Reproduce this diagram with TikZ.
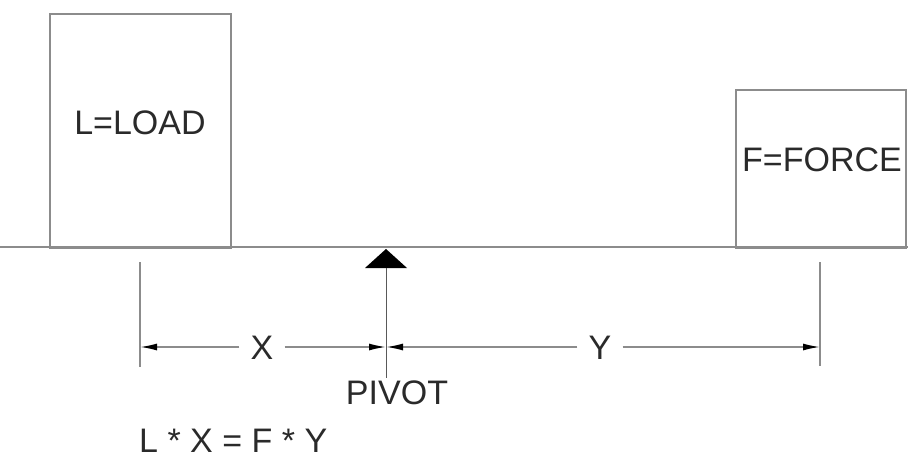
\documentclass[tikz,border=0pt]{standalone}
\usepackage{fontspec}
\setmainfont{Liberation Sans}
\usetikzlibrary{arrows.meta}
\definecolor{linegray}{HTML}{8C8C8C}
\definecolor{txt}{HTML}{2A2A2A}
\begin{document}
\begin{tikzpicture}[x=1pt,y=-1pt,
  lbl/.style={font=\fontsize{34}{39}\selectfont, text=txt, inner sep=0pt},
  boxstyle/.style={draw=linegray, line width=2pt, inner sep=0pt},
  beam/.style={draw=linegray, line width=2pt},
  extline/.style={draw=linegray, line width=1.6pt},
  dimline/.style={draw=linegray, line width=1.6pt},
  tipstyle/.style={-{Latex[length=17pt,width=7pt,black]}},
]
\useasboundingbox (0,0) rectangle (908,466);
% beam
\coordinate (bl) at (0,247);
\coordinate (br) at (908,247);
\draw[beam] (bl) -- (br);
% boxes
\node[boxstyle, minimum width=181pt, minimum height=234pt, anchor=north west] (load) at (49,13) {};
\node[boxstyle, minimum width=170pt, minimum height=158pt, anchor=north west] (force) at (735,89) {};
\node[lbl] (loadtxt) at (140,123) {L=LOAD};
\node[lbl] (forcetxt) at (822,160) {F=FORCE};
% pivot triangle
\coordinate (apex) at (386,249);
\coordinate (tl) at (365,268);
\coordinate (tr) at (407,268);
\fill[black] (apex) -- (tl) -- (tr) -- cycle;
% extension lines
\coordinate (e1t) at (140,262);
\coordinate (e1b) at (140,367);
\coordinate (e2t) at (820,262);
\coordinate (e2b) at (820,366);
\coordinate (pt) at (386,268);
\coordinate (pb) at (386,378);
\draw[extline] (e1t) -- (e1b);
\draw[extline] (e2t) -- (e2b);
\draw[draw=gray!70!black, line width=1pt] (pt) -- (pb);
% dimension lines
\coordinate (d1) at (140,347);
\coordinate (dp) at (386,347);
\coordinate (d2) at (820,347);
\node[lbl, inner xsep=11pt] (xlab) at (262,348) {X};
\node[lbl, inner xsep=11pt] (ylab) at (600,348) {Y};
\draw[dimline, tipstyle] (xlab.west |- d1) -- (d1);
\draw[dimline, tipstyle] (xlab.east |- d1) -- (dp);
\draw[dimline, tipstyle] (ylab.west |- d1) -- (dp);
\draw[dimline, tipstyle] (ylab.east |- d1) -- (d2);
% labels
\node[lbl] (pivot) at (397,393) {PIVOT};
\node[lbl, anchor=west] (formula) at (139,441) {L * X = F * Y};
\end{tikzpicture}
\end{document}
